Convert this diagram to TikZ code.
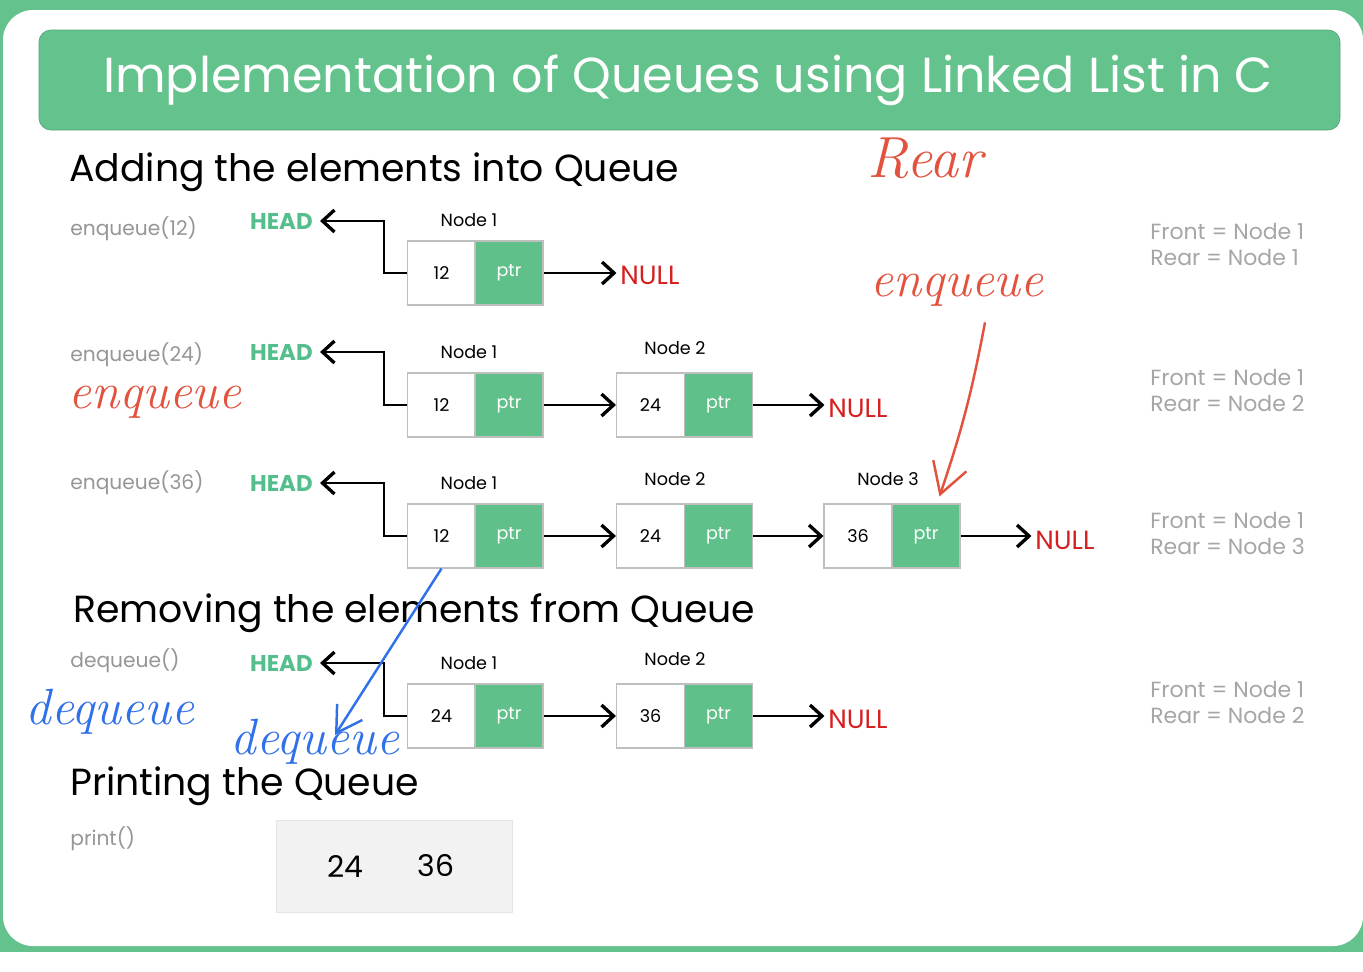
\documentclass[tikz,border=0pt]{standalone}
\usepackage{fontspec}
\setsansfont{Poppins}
\usetikzlibrary{arrows.meta,positioning}

\definecolor{bggreen}{RGB}{100,195,140}
\definecolor{cellgreen}{RGB}{96,192,137}
\definecolor{headgreen}{RGB}{84,190,140}
\definecolor{nullred}{RGB}{214,32,32}
\definecolor{softgray}{RGB}{150,150,150}
\definecolor{handred}{RGB}{226,82,62}
\definecolor{handblue}{RGB}{48,112,232}

\begin{document}
\begin{tikzpicture}[
  x=0.02cm, y=-0.02cm, font=\sffamily,
  cell/.style={rectangle, draw=black!25, line width=0.6pt, inner sep=0pt,
               minimum width=1.36cm, minimum height=1.28cm,
               font=\sffamily\fontsize{10}{12}\selectfont},
  datacell/.style={cell, fill=white},
  ptrcell/.style={cell, fill=cellgreen, text=white},
  headlbl/.style={anchor=east, inner sep=0pt, text=headgreen, font=\sffamily\bfseries\fontsize{13}{15}\selectfont},
  oplbl/.style={anchor=west, inner sep=0pt, text=softgray, font=\sffamily\fontsize{11.5}{14}\selectfont},
  nodelbl/.style={font=\sffamily\fontsize{10}{12}\selectfont},
  nulllbl/.style={anchor=west, inner sep=0pt, text=nullred, font=\sffamily\fontsize{15}{17}\selectfont},
  state/.style={anchor=west, inner sep=0pt, align=left, text=softgray!85, font=\sffamily\fontsize{12.5}{14.8}\selectfont},
  section/.style={anchor=west, inner sep=0pt, font=\sffamily\fontsize{21.5}{26}\selectfont},
  hand/.style={font=\rmfamily\itshape\fontsize{29}{32}\selectfont},
  link/.style={-{Straight Barb[length=2.4mm, width=4.4mm, line width=1.9pt]}, line width=1.5pt},
  headlink/.style={-{Straight Barb[length=2.4mm, width=4.4mm, line width=1.9pt]}, line width=1.2pt}
]
  % frame
  \useasboundingbox (0,0) rectangle (1363,971);
  \fill[white] (0,0) rectangle (1363,971);
  \fill[bggreen] (0,0) rectangle (1363,952);
  \fill[white, rounded corners=0.6cm] (3,10) rectangle (1363,946);
  \draw[bggreen!85!black, fill=bggreen, rounded corners=0.24cm] (39,30) rectangle (1340,130);
  \node[text=white, font=\sffamily\fontsize{28}{32}\selectfont] (title) at (688,80) {Implementation of Queues using Linked List in C};

  \node[section] (addsec) at (69,172) {Adding the elements into Queue};

  % enqueue(12)
  \node[oplbl] (op1) at (70,229) {enqueue(12)};
  \node[headlbl] (head1) at (313,221) {HEAD};
  \node[nodelbl] (nl11) at (469,220) {Node 1};
  \node[datacell] (d11) at (441.5,273) {12};
  \node[ptrcell] (p11) at (509,273) {ptr};
  \node[nulllbl] (null1) at (620,275) {NULL};
  \node[state] (st1) at (1150,244) {Front = Node 1\\Rear = Node 1};

  \draw[headlink] (d11.west) -- ++(-23,0) |- ([xshift=4pt]head1.east);
  \draw[link, shorten >=2pt] (p11.east) -- (p11.east -| null1.west);

  % enqueue(24)
  \node[oplbl] (op2) at (70,355) {enqueue(24)};
  \node[headlbl] (head2) at (313,352) {HEAD};
  \node[nodelbl] (nl21) at (469,352) {Node 1};
  \node[nodelbl] (nl22) at (675,348) {Node 2};
  \node[datacell] (d21) at (441.5,405) {12};
  \node[ptrcell] (p21) at (509,405) {ptr};
  \node[datacell] (d22) at (650.5,405) {24};
  \node[ptrcell] (p22) at (718.5,405) {ptr};
  \node[nulllbl] (null2) at (828,408) {NULL};
  \node[state] (st2) at (1150,390) {Front = Node 1\\Rear = Node 2};

  \draw[headlink] (d21.west) -- ++(-23,0) |- ([xshift=4pt]head2.east);
  \draw[link] (p21) -- (d22);
  \draw[link, shorten >=2pt] (p22.east) -- (p22.east -| null2.west);

  % enqueue(36)
  \node[oplbl] (op3) at (70,483) {enqueue(36)};
  \node[headlbl] (head3) at (313,483) {HEAD};
  \node[nodelbl] (nl31) at (469,483) {Node 1};
  \node[nodelbl] (nl32) at (675,479) {Node 2};
  \node[nodelbl] (nl33) at (888,479) {Node 3};
  \node[datacell] (d31) at (441.5,536) {12};
  \node[ptrcell] (p31) at (509,536) {ptr};
  \node[datacell] (d32) at (650.5,536) {24};
  \node[ptrcell] (p32) at (718.5,536) {ptr};
  \node[datacell] (d33) at (858,536) {36};
  \node[ptrcell] (p33) at (926,536) {ptr};
  \node[nulllbl] (null3) at (1035,540) {NULL};
  \node[state] (st3) at (1150,533) {Front = Node 1\\Rear = Node 3};

  \draw[headlink] (d31.west) -- ++(-23,0) |- ([xshift=4pt]head3.east);
  \draw[link] (p31) -- (d32);
  \draw[link] (p32) -- (d33);
  \draw[link, shorten >=2pt] (p33.east) -- (p33.east -| null3.west);

  \node[section] (remsec) at (73,613) {Removing the elements from Queue};

  % dequeue()
  \node[oplbl] (op4) at (70,661) {dequeue()};
  \node[headlbl] (head4) at (313,663) {HEAD};
  \node[nodelbl] (nl41) at (469,663) {Node 1};
  \node[nodelbl] (nl42) at (675,659) {Node 2};
  \node[datacell] (d41) at (441.5,716) {24};
  \node[ptrcell] (p41) at (509,716) {ptr};
  \node[datacell] (d42) at (650.5,716) {36};
  \node[ptrcell] (p42) at (718.5,716) {ptr};
  \node[nulllbl] (null4) at (828,719) {NULL};
  \node[state] (st4) at (1150,702) {Front = Node 1\\Rear = Node 2};

  \draw[headlink] (d41.west) -- ++(-23,0) |- ([xshift=4pt]head4.east);
  \draw[link] (p41) -- (d42);
  \draw[link, shorten >=2pt] (p42.east) -- (p42.east -| null4.west);

  \node[section] (prtsec) at (70,786) {Printing the Queue};

  % print()
  \node[oplbl] (op5) at (70,839) {print()};
  \node[rectangle, draw=black!10, fill=black!5, minimum width=4.72cm, minimum height=1.84cm] (printbox) at (394,866) {};
  \node[font=\sffamily\fontsize{17}{20}\selectfont] (v1) at (345,866) {24};
  \node[font=\sffamily\fontsize{17}{20}\selectfont] (v2) at (436,866) {36};

  % hand notes
  \node[hand, text=handred, font=\rmfamily\itshape\fontsize{33}{36}\selectfont] (rear) at (925,158) {Rear};
  \node[hand, text=handred] (enqa) at (957,290) {enqueue};
  \node[hand, text=handred] (enqb) at (155,402) {enqueue};
  \node[hand, text=handblue] (deqa) at (110,712) {dequeue};
  \node[hand, text=handblue] (deqb) at (315,742) {dequeue};

  \draw[handred, line width=1.4pt, -{Straight Barb[length=6mm, width=7mm]}]
    ([xshift=0.56cm, yshift=-0.2cm]enqa.south) to[bend left=4] ([xshift=0.96cm, yshift=0.14cm]p33.north west);
  \draw[handblue, line width=1.4pt, -{Straight Barb[length=5mm, width=6mm]}]
    (d31.south) -- ([xshift=0.4cm, yshift=0.14cm]deqb.center);
\end{tikzpicture}
\end{document}
